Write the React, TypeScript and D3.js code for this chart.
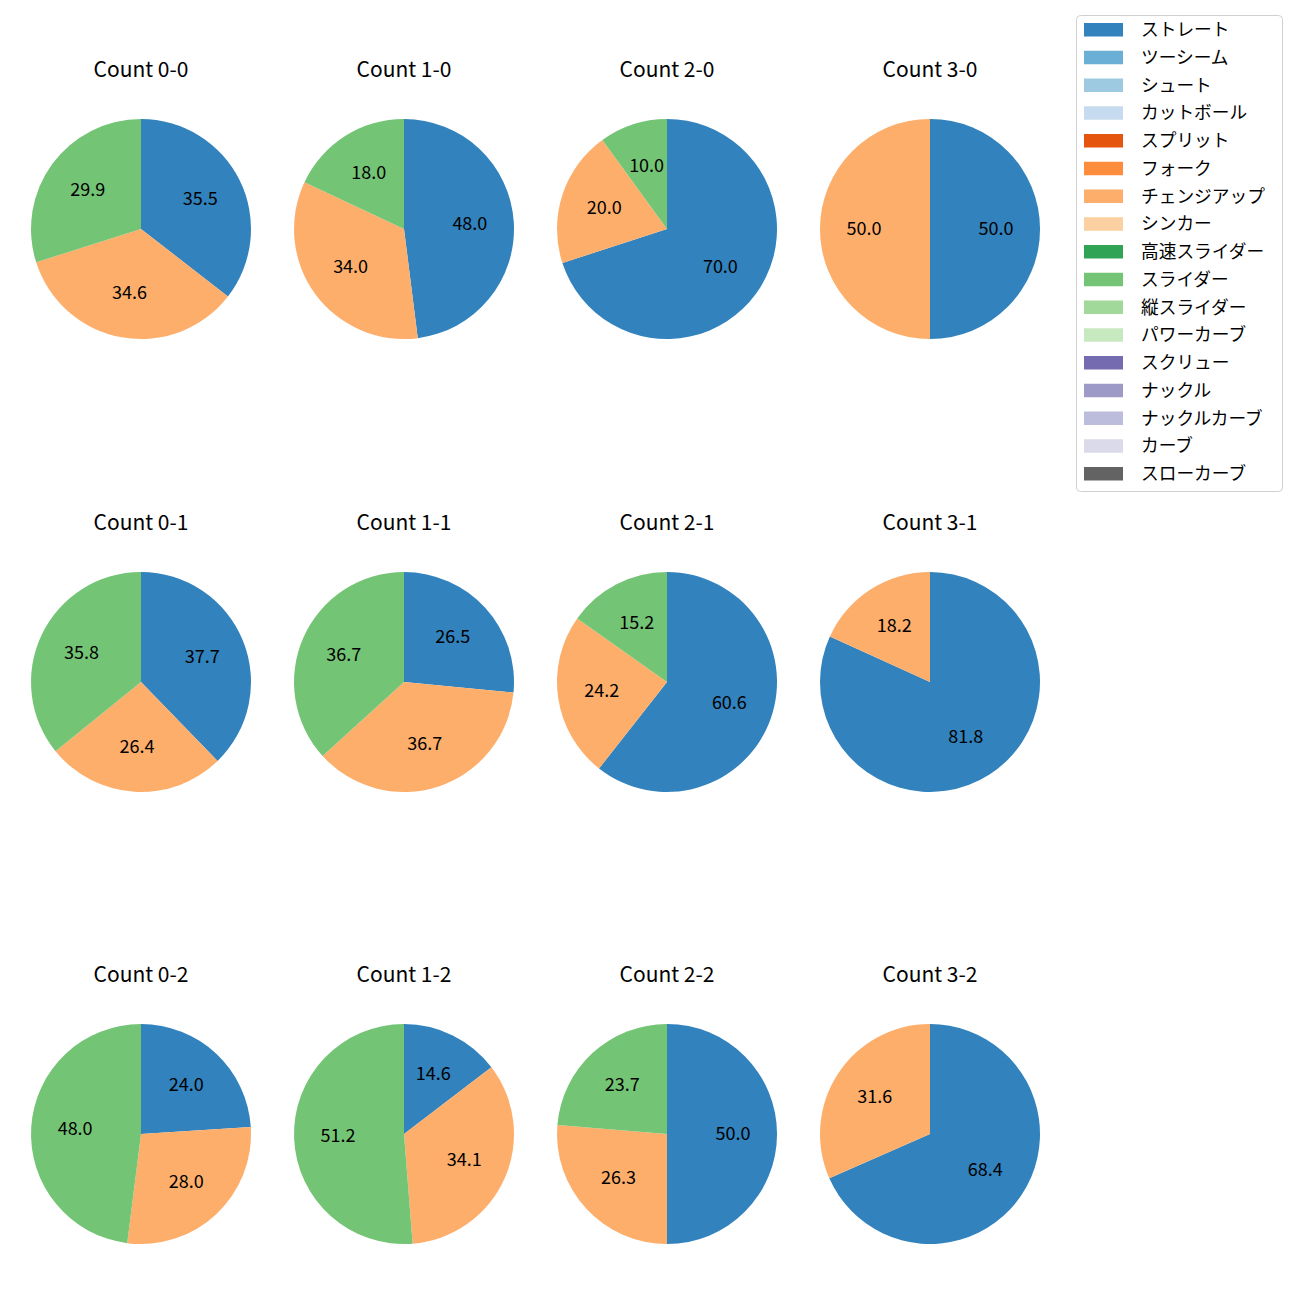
import React from "react";
import * as d3 from "d3";

const pitchTypes = ["ストレート","ツーシーム","シュート","カットボール","スプリット","フォーク","チェンジアップ","シンカー","高速スライダー","スライダー","縦スライダー","パワーカーブ","スクリュー","ナックル","ナックルカーブ","カーブ","スローカーブ"];
const pitchColors = ["#3182bd","#6baed6","#9ecae1","#c6dbef","#e6550d","#fd8d3c","#fdae6b","#fdd0a2","#31a354","#74c476","#a1d99b","#c7e9c0","#756bb1","#9e9ac8","#bcbddc","#dadaeb","#636363"];

const counts = ["0-0","1-0","2-0","3-0","0-1","1-1","2-1","3-1","0-2","1-2","2-2","3-2"];
// values in order: ストレート, チェンジアップ, スライダー
const straight = [35.5,48.0,70.0,50.0,37.7,26.5,60.6,81.8,24.0,14.6,50.0,68.4];
const changeup = [34.6,34.0,20.0,50.0,26.4,36.7,24.2,18.2,28.0,34.1,26.3,31.6];
const slider =   [29.9,18.0,10.0,0,35.8,36.7,15.2,0,48.0,51.2,23.7,0];

const colX = [141, 404, 667, 930];
const rowY = [229, 682, 1134];
const R = 110;

export default function App() {
  const font = "'Noto Sans CJK JP', 'Noto Sans', sans-serif";
  const pie = d3.pie<{ name: string; v: number }>().value(d => d.v).sort(null).startAngle(0).endAngle(2 * Math.PI);
  const arc = d3.arc<d3.PieArcDatum<{ name: string; v: number }>>().innerRadius(0).outerRadius(R);
  const color = d3.scaleOrdinal<string, string>().domain(pitchTypes).range(pitchColors);

  return (
    <svg width={1300} height={1300} style={{ display: "block", position: "absolute", left: 0, top: 0 }} fontFamily={font}>
      <rect width={1300} height={1300} fill="#fff" />
      {counts.map((c, i) => {
        const cx = colX[i % 4];
        const cy = rowY[Math.floor(i / 4)];
        const data = [
          { name: "ストレート", v: straight[i] },
          { name: "チェンジアップ", v: changeup[i] },
          { name: "スライダー", v: slider[i] },
        ].filter(d => d.v > 0);
        const arcs = pie(data);
        return (
          <g key={c}>
            <text x={cx} y={cy - 152} textAnchor="middle" fontSize={21} fill="#000">{`Count ${c}`}</text>
            <g transform={`translate(${cx},${cy})`}>
              {arcs.map(a => (
                <path key={a.data.name} d={arc(a) || ""} fill={color(a.data.name)} />
              ))}
              {arcs.map(a => {
                const m = (a.startAngle + a.endAngle) / 2;
                const x = 0.6 * R * Math.sin(m);
                const y = -0.6 * R * Math.cos(m);
                return (
                  <text key={a.data.name + "t"} x={x} y={y - 2.5} textAnchor="middle" dominantBaseline="central" fontSize={18} fill="#000">
                    {a.data.v.toFixed(1)}
                  </text>
                );
              })}
            </g>
          </g>
        );
      })}
      <g>
        <rect x={1076.5} y={15.5} width={206} height={476} rx={4} fill="#fff" fillOpacity={0.8} stroke="#d0d0d0" />
        {pitchTypes.map((p, i) => {
          const y = 29.5 + i * 27.75;
          return (
            <g key={p}>
              <rect x={1084} y={y - 6.5} width={39} height={13.5} fill={color(p)} />
              <text x={1141} y={y - 1.5} dominantBaseline="central" fontSize={17.7} fill="#000">{p}</text>
            </g>
          );
        })}
      </g>
    </svg>
  );
}
